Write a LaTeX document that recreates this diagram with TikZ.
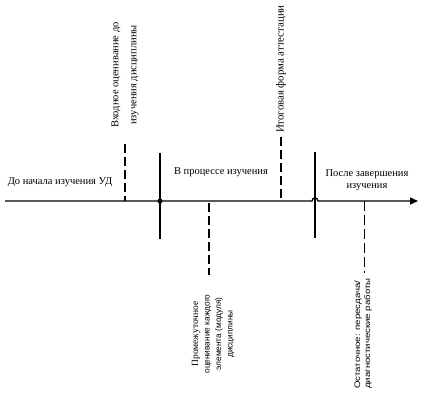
\documentclass[tikz,border=0pt]{standalone}
\usepackage{fontspec}
\setmainfont{Liberation Serif}
\newfontfamily\labsans{Liberation Sans}
\newfontfamily\labnarrow[FakeStretch=1.2]{Liberation Sans}
\usetikzlibrary{arrows.meta}

\begin{document}
\begin{tikzpicture}[x=1pt, y=-1pt,
  axisln/.style={line width=1.3pt, -{Triangle[length=8pt, width=7pt]}},
  bar/.style={line width=2.2pt},
  thinbar/.style={line width=1.1pt},
  dsh/.style={line width=2pt, dash pattern=on 9pt off 4pt},
  thindsh/.style={line width=1pt, dash pattern=on 10pt off 4pt},
  lab/.style={font=\fontsize{10.5}{11.5}\selectfont, inner sep=0pt, align=center},
  vlab/.style={lab, rotate=90}]
  \useasboundingbox (0,0) rectangle (424,401);
  \coordinate (a0) at (5,201);
  \coordinate (j0) at (312,201);
  \coordinate (j1) at (318,201);
  \coordinate (a1) at (418,201);
  \coordinate (b1t) at (160,153);
  \coordinate (b1x) at (160,201);
  \coordinate (b1b) at (160,239);
  \coordinate (b2t) at (315,152);
  \coordinate (b2b) at (315,238);
  \coordinate (d1t) at (125,144);
  \coordinate (d1b) at (125,201);
  \coordinate (d2t) at (281,137);
  \coordinate (d2b) at (281,201);
  \coordinate (d3t) at (209,203);
  \coordinate (d3b) at (209,275);
  \coordinate (d4t) at (364,201);
  \coordinate (d4b) at (364,273);
  % time axis, jumps over the second bar
  \draw[axisln] (a0) -- (j0) .. controls (312,197) and (318,197) .. (j1) -- (a1);
  \draw[bar] (b1t) -- (b1b);
  \fill (b1x) circle (2.5pt);
  \draw[thinbar] (b2t) -- (b2b);
  \draw[dsh] (d1t) -- (d1b);
  \draw[dsh] (d2t) -- (d2b);
  \draw[dsh] (d3t) -- (d3b);
  \draw[thindsh] (d4t) -- (d4b);
  \node[lab] (before) at (60,182) {До начала изучения УД};
  \node[lab] (during) at (221,172) {В процессе изучения};
  \node[lab] (after) at (367,180) {После завершения\\изучения};
  \node[vlab, font=\fontsize{10.5}{18}\selectfont] (entry) at (125,75) {Входное оценивание до\\изучения дисциплины};
  \node[vlab, anchor=west, font=\fontsize{10.8}{12}\selectfont] (final) at (281,133) {Итоговая форма аттестации};
  \node[vlab] (interim) at (213,334) {\fontsize{9.5}{13}\selectfont Промежуточное\\
    \labsans\fontsize{8.3}{12}\selectfont оценивание каждого\\
    \labsans\fontsize{8.3}{12}\selectfont элемента (модуля)\\
    \labsans\fontsize{8.3}{12}\selectfont дисциплины};
  \node[vlab, anchor=west, align=left, font=\labnarrow\fontsize{8}{10}\selectfont] (resid) at (363,389) {Остаточное: пересдача/\\диагностические работы};
\end{tikzpicture}
\end{document}
